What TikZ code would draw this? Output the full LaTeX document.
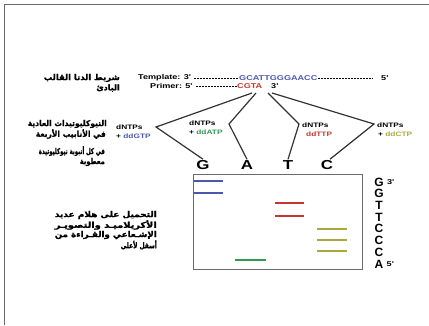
\documentclass[tikz,border=0pt]{standalone}
\usepackage{fontspec}
\setmainfont{Liberation Sans}
\newfontfamily\anchafont[FakeStretch=1.3]{Liberation Sans}
\newfontfamily\arabicfont[Script=Arabic, BoldFont={DejaVu Sans Bold}, BoldFeatures={FakeBold=1.2}]{DejaVu Sans}
\TeXXeTstate=1
\newcommand{\lineaar}[2]{\resizebox{#1}{\height}{#2}}
\definecolor{azulG}{HTML}{4C58AE}
\definecolor{rojoT}{HTML}{C6352F}
\definecolor{verdeA}{HTML}{2F9A50}
\definecolor{olivaC}{HTML}{A9A83C}
\definecolor{marco}{HTML}{6A6A6A}
\tikzset{
  plantilla/.style={inner sep=0pt, font=\anchafont\bfseries\fontsize{7}{8}\selectfont},
  grupo/.style={inner sep=0pt, anchor=west, font=\anchafont\bfseries\fontsize{6.4}{7}\selectfont},
  arab/.style={inner sep=0pt, anchor=east, font=\arabicfont\bfseries\fontsize{8}{9}\selectfont},
  letra/.style={inner sep=0pt, font=\anchafont\bfseries\fontsize{13}{13}\selectfont},
  secuencia/.style={inner sep=0pt, font=\bfseries\fontsize{12}{12}\selectfont},
  rama/.style={line width=1.2pt, draw=black!80},
  guiones/.style={line width=0.4pt, dash pattern=on 2pt off 1pt},
  banda/.style={line width=1.6pt},
}
\begin{document}
\begin{tikzpicture}[x=1pt, y=-1pt]
	\useasboundingbox (0,0) rectangle (429,325);
	% marco
	\draw[marco, line width=1.4pt] (4.5,325) -- (4.5,4.5) -- (429,4.5);
	
	% hebras
	\node[plantilla, anchor=west] (tmpl) at (138,78) {Template: 3'};
	\node[plantilla, anchor=west, text=azulG] (seqT) at (239,78) {GCATTGGGAACC};
	\node[plantilla, anchor=west] (tmpl5) at (381,78) {5'};
	\draw[guiones] (tmpl.east) ++(3,0.5) coordinate (d1) -- (seqT.west |- d1);
	\draw[guiones] (seqT.east) ++(0,0.5) coordinate (d2) -- ([xshift=-8pt]tmpl5.west |- d2);
	\node[plantilla, anchor=west] (prim) at (150,86) {Primer: 5'};
	\node[plantilla, anchor=west, text=rojoT] (cgta) at (237,86) {CGTA};
	\node[plantilla, anchor=west] (prim3) at (271,86) {3'};
	\draw[guiones] (prim.east) ++(3,0.5) coordinate (d3) -- (cgta.west |- d3);
	
	\node[arab] (arT) at (120,78) {\lineaar{76pt}{\beginR شريط الدنا القالب\endR}};
	\node[arab] (arP) at (120,88) {\beginR البادئ\endR};
	
	% tubos
	\node[grupo] (g1) at (116,127) {dNTPs};
	\node[grupo] (g2) at (116,136) {+ \textcolor{azulG}{ddGTP}};
	\node[grupo] (a1) at (189,123) {dNTPs};
	\node[grupo] (a2) at (189,132) {+ \textcolor{verdeA}{ddATP}};
	\node[grupo] (t1) at (302,125) {dNTPs};
	\node[grupo] (t2) at (306,134) {\textcolor{rojoT}{ddTTP}};
	\node[grupo] (c1) at (377,125) {dNTPs};
	\node[grupo] (c2) at (378,134) {+ \textcolor{olivaC}{ddCTP}};
	
	\node[arab] (arN1) at (107,124) {\lineaar{79pt}{\beginR النيوكليوتيدات العادية\endR}};
	\node[arab] (arN2) at (106,134) {\lineaar{70pt}{\beginR في الأنابيب الأربعة\endR}};
	\node[arab] (arN3) at (105,151) {\lineaar{66pt}{\beginR في كل أنبوبة نيوكليوتيدة\endR}};
	\node[arab] (arN4) at (105,162) {\lineaar{25pt}{\beginR معطوبة\endR}};
	
	\node[letra] (G) at (203,165) {G};
	\node[letra] (A) at (247,165) {A};
	\node[letra] (T) at (288,165) {T};
	\node[letra] (C) at (327,165) {C};
	
	\coordinate (oG) at (252,93);
	\coordinate (oA) at (256,93);
	\coordinate (oT) at (268,93);
	\coordinate (oC) at (272,93);
	\coordinate (vG) at (156,127);
	\coordinate (vA) at (229,124);
	\coordinate (vT) at (299,124);
	\coordinate (vC) at (374,124);
	\draw[rama] (oG) -- (vG) -- ([yshift=1pt]G.north);
	\draw[rama] (oA) -- (vA) -- ([yshift=1pt]A.north);
	\draw[rama] (oT) -- (vT) -- ([yshift=1pt]T.north);
	\draw[rama] (oC) -- (vC) -- ([xshift=3pt,yshift=1pt]C.north);
	
	% gel
	\node[draw=marco, line width=1.1pt, minimum width=169pt, minimum height=95pt, inner sep=0pt, anchor=north west] (gel) at (193,174) {};
	\draw[banda, azulG] (194,181) -- (223,181);
	\draw[banda, azulG] (194,193) -- (223,193);
	\draw[banda, rojoT] (275,203) -- (304,203);
	\draw[banda, rojoT] (275,216) -- (304,216);
	\draw[banda, olivaC] (317,229) -- (347,229);
	\draw[banda, olivaC] (317,240) -- (347,240);
	\draw[banda, olivaC] (317,251) -- (347,251);
	\draw[banda, verdeA] (235,260) -- (266,260);
	
	% lectura
	\foreach \b [count=\i from 0] in {G,G,T,T,C,C,C,A}
		\node[secuencia] (s\i) at (379,182+11.7*\i) {\b};
	\node[plantilla, anchor=west] (s3p) at ([xshift=3pt]s0.east) {3'};
	\node[plantilla, anchor=west] (s5p) at ([xshift=3pt]s7.east) {5'};
	
	\node[arab] (arG1) at (157,215) {\lineaar{102pt}{\beginR التحميل على هلام عديد\endR}};
	\node[arab] (arG2) at (157,225) {\lineaar{102pt}{\beginR الأكريلاميـد والتصويـر\endR}};
	\node[arab] (arG3) at (157,235) {\lineaar{102pt}{\beginR الإشـعاعي والقـراءة من\endR}};
	\node[arab] (arG4) at (157,245) {\lineaar{36pt}{\beginR أسفل لأعلى\endR}};
\end{tikzpicture}
\end{document}
